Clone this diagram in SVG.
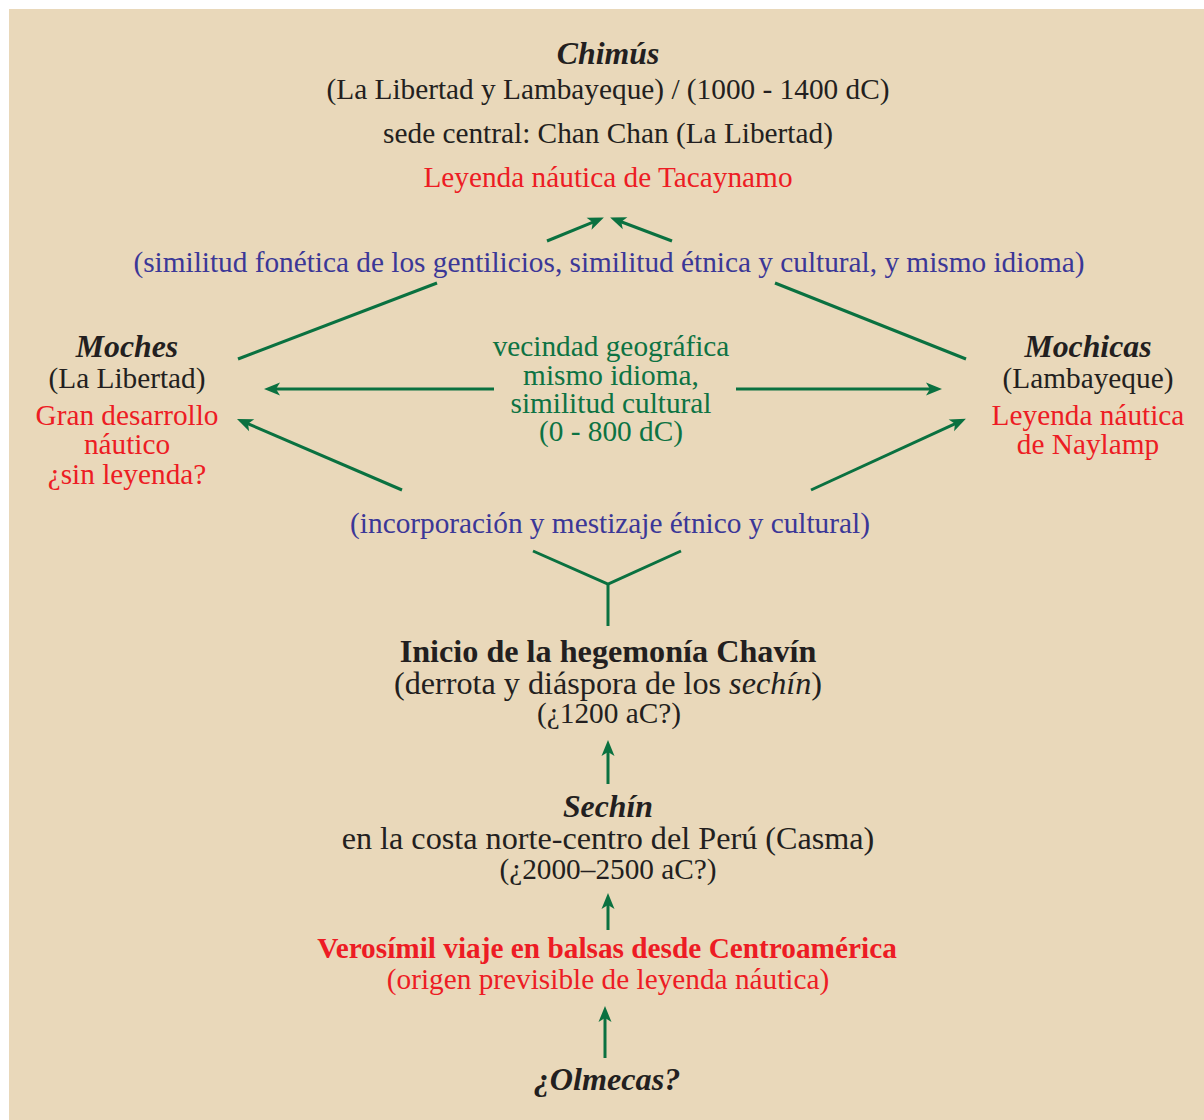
<svg xmlns="http://www.w3.org/2000/svg" width="1204" height="1120" viewBox="0 0 1204 1120">
<style>
text{font-family:"Liberation Serif","Times New Roman",serif;font-size:29.3px;text-anchor:middle}
.k{fill:#231F20}
.r{fill:#ED1C24}
.b{fill:#3B3797}
.g{fill:#0D7343}
.t{font-weight:bold;font-style:italic;font-size:31.8px}
.bd{font-weight:bold}
.lg{font-size:32.2px}
.it{font-style:italic}
.c line,.c polyline{stroke:#0A7140;stroke-width:3;fill:none}
</style>
<defs>
<marker id="ah" markerUnits="userSpaceOnUse" orient="auto" markerWidth="20" markerHeight="20" refX="0" refY="0" viewBox="-6 -8 20 16" overflow="visible">
<path d="M11,0 L-5,-6.5 L-1,0 L-5,6.5 Z" fill="#0A7140"/>
</marker>
</defs>
<rect width="1204" height="1120" fill="#FFFFFF"/>
<rect x="9" y="9" width="1195" height="1111" fill="#E9D8BA"/>
<g class="c" id="connectors">
<line x1="547" y1="241" x2="593.7" y2="221.8" marker-end="url(#ah)"/>
<line x1="672" y1="241" x2="620.4" y2="221.5" marker-end="url(#ah)"/>
<line x1="437" y1="283" x2="238" y2="359"/>
<line x1="775" y1="283" x2="966" y2="359"/>
<line x1="494" y1="389" x2="275" y2="389" marker-end="url(#ah)"/>
<line x1="736" y1="389" x2="931" y2="389" marker-end="url(#ah)"/>
<line x1="402" y1="490" x2="247.1" y2="423.3" marker-end="url(#ah)"/>
<line x1="811" y1="490" x2="955.9" y2="423.3" marker-end="url(#ah)"/>
<polyline points="533,551 608,584 681,551"/>
<line x1="608" y1="584" x2="608" y2="626"/>
<line x1="608" y1="784" x2="608" y2="751" marker-end="url(#ah)"/>
<line x1="608" y1="930" x2="608" y2="904" marker-end="url(#ah)"/>
<line x1="605" y1="1058" x2="605" y2="1017" marker-end="url(#ah)"/>
</g>
<g id="chimus">
<text class="k t" x="608" y="64">Chimús</text>
<text class="k" x="608" y="99">(La Libertad y Lambayeque) / (1000 - 1400 dC)</text>
<text class="k" x="608" y="143">sede central: Chan Chan (La Libertad)</text>
<text class="r" x="608" y="187">Leyenda náutica de Tacaynamo</text>
</g>
<g id="similitud">
<text class="b" x="609" y="272">(similitud fonética de los gentilicios, similitud étnica y cultural, y mismo idioma)</text>
</g>
<g id="moches">
<text class="k t" x="127" y="357">Moches</text>
<text class="k" x="127" y="388">(La Libertad)</text>
<text class="r" x="127" y="425">Gran desarrollo</text>
<text class="r" x="127" y="454">náutico</text>
<text class="r" x="127" y="484">¿sin leyenda?</text>
</g>
<g id="mochicas">
<text class="k t" x="1088" y="357">Mochicas</text>
<text class="k" x="1088" y="388">(Lambayeque)</text>
<text class="r" x="1088" y="425">Leyenda náutica</text>
<text class="r" x="1088" y="454">de Naylamp</text>
</g>
<g id="vecindad">
<text class="g" x="611" y="356">vecindad geográfica</text>
<text class="g" x="611" y="385">mismo idioma,</text>
<text class="g" x="611" y="413">similitud cultural</text>
<text class="g" x="611" y="441">(0 - 800 dC)</text>
</g>
<g id="incorporacion">
<text class="b" x="610" y="533">(incorporación y mestizaje étnico y cultural)</text>
</g>
<g id="chavin">
<text class="k bd lg" x="608" y="662">Inicio de la hegemonía Chavín</text>
<text class="k lg" x="608" y="694">(derrota y diáspora de los <tspan class="it">sechín</tspan>)</text>
<text class="k" x="609" y="723">(¿1200 aC?)</text>
</g>
<g id="sechin">
<text class="k t" x="608" y="817">Sechín</text>
<text class="k lg" x="608" y="849">en la costa norte-centro del Perú (Casma)</text>
<text class="k" x="608" y="879">(¿2000–2500 aC?)</text>
</g>
<g id="viaje">
<text class="r bd" x="607" y="958">Verosímil viaje en balsas desde Centroamérica</text>
<text class="r" x="608" y="989">(origen previsible de leyenda náutica)</text>
</g>
<g id="olmecas">
<text class="k t lg" x="607" y="1090">¿Olmecas?</text>
</g>
</svg>
